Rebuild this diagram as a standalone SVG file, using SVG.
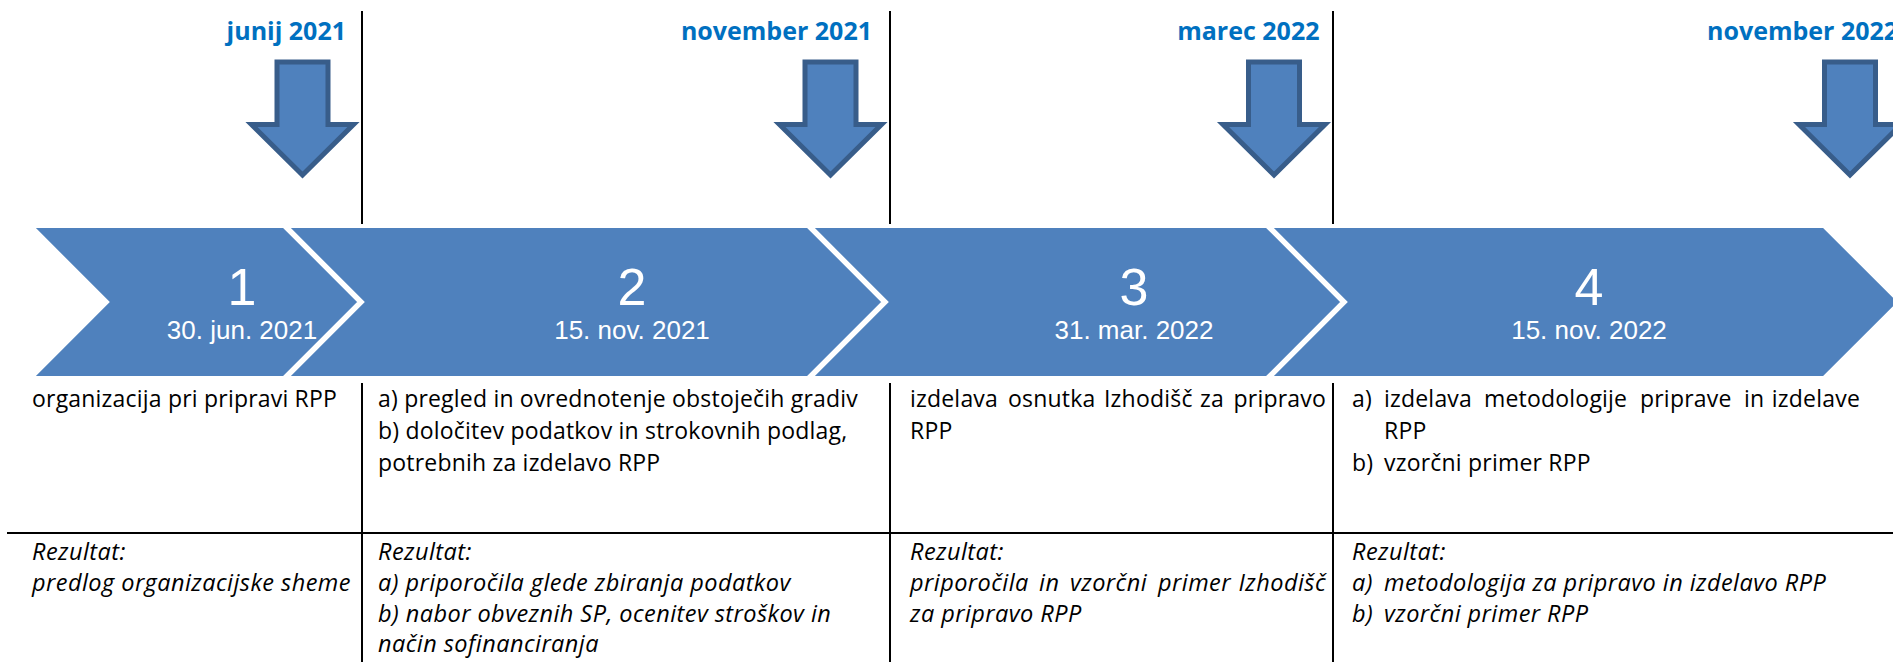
<svg xmlns="http://www.w3.org/2000/svg" width="1893" height="662" viewBox="0 0 1893 662">
<defs>
<style>
.lbl{font-family:"Open Sans","Noto Sans",sans-serif;font-weight:700;font-size:25px;fill:#0070C0}
.num{font-family:"Liberation Sans",Arial,sans-serif;font-size:52px;fill:#fff;text-anchor:middle}
.date{font-family:"Liberation Sans",Arial,sans-serif;font-size:26px;fill:#fff;text-anchor:middle}
.txt{font-family:"Open Sans","Noto Sans",sans-serif;font-size:23px;letter-spacing:0.2px;fill:#000}
.it{font-style:italic;font-size:23.5px;letter-spacing:0.45px}
.end{text-anchor:end}
.chev{fill:#4F81BD;stroke:#fff;stroke-width:4;stroke-linejoin:miter}
.arr{fill:#4F81BD;stroke:#385D8A;stroke-width:5;stroke-linejoin:miter}
.ln{stroke:#000;stroke-width:2;fill:none}
</style>
<path id="barrow" class="arr" d="M-25.5,62 H25.5 V124.5 H51 L0,175 L-51,124.5 H-25.5 Z"/>
</defs>
<rect width="1893" height="662" fill="#fff"/>

<g id="grid">
<line class="ln" x1="362" y1="11" x2="362" y2="225"/>
<line class="ln" x1="890" y1="11" x2="890" y2="225"/>
<line class="ln" x1="1333" y1="11" x2="1333" y2="225"/>
<line class="ln" x1="362" y1="383" x2="362" y2="662"/>
<line class="ln" x1="890" y1="383" x2="890" y2="662"/>
<line class="ln" x1="1333" y1="383" x2="1333" y2="662"/>
<line class="ln" x1="7" y1="533" x2="1893" y2="533"/>
</g>

<g id="milestone1"><text class="lbl" x="346" y="39.5" text-anchor="end">junij 2021</text><use href="#barrow" transform="translate(302.5,0)"/></g>
<g id="milestone2"><text class="lbl" x="872" y="39.5" text-anchor="end">november 2021</text><use href="#barrow" transform="translate(830.5,0)"/></g>
<g id="milestone3"><text class="lbl" x="1319.5" y="39.5" text-anchor="end">marec 2022</text><use href="#barrow" transform="translate(1274,0)"/></g>
<g id="milestone4"><text class="lbl" x="1707" y="39.5">november 2022</text><use href="#barrow" transform="translate(1850,0)"/></g>

<g id="step1"><path class="chev" d="M31,226 H284 L360,302 L284,378 H31 L107,302 Z"/><text class="num" x="242" y="305">1</text><text class="date" x="242" y="339">30. jun. 2021</text></g>
<g id="step2"><path class="chev" d="M286,226 H808 L884,302 L808,378 H286 L362,302 Z"/><text class="num" x="632" y="305">2</text><text class="date" x="632" y="339">15. nov. 2021</text></g>
<g id="step3"><path class="chev" d="M810,226 H1267 L1343,302 L1267,378 H810 L886,302 Z"/><text class="num" x="1134" y="305">3</text><text class="date" x="1134" y="339">31. mar. 2022</text></g>
<g id="step4"><path class="chev" d="M1269,226 H1824 L1900,302 L1824,378 H1269 L1345,302 Z"/><text class="num" x="1589" y="305">4</text><text class="date" x="1589" y="339">15. nov. 2022</text></g>

<g id="task1"><text class="txt" x="32" y="407">organizacija pri pripravi RPP</text></g>
<g id="result1"><text class="txt it" x="32" y="560">Rezultat:</text><text class="txt it" x="32" y="591">predlog organizacijske sheme</text></g>

<g id="task2">
<text class="txt" x="378" y="407">a) pregled in ovrednotenje obstoječih gradiv</text>
<text class="txt" x="378" y="439">b) določitev podatkov in strokovnih podlag,</text>
<text class="txt" x="378" y="471">potrebnih za izdelavo RPP</text>
</g>
<g id="result2">
<text class="txt it" x="378" y="560">Rezultat:</text>
<text class="txt it" x="378" y="591">a) priporočila glede zbiranja podatkov</text>
<text class="txt it" x="378" y="622">b) nabor obveznih SP, ocenitev stroškov in</text>
<text class="txt it" x="378" y="652">način sofinanciranja</text>
</g>

<g id="task3">
<text class="txt" x="910" y="407">izdelava</text>
<text class="txt" x="1008" y="407">osnutka</text>
<text class="txt" x="1104" y="407">Izhodišč</text>
<text class="txt" x="1200" y="407">za</text>
<text class="txt end" x="1326" y="407">pripravo</text>
<text class="txt" x="910" y="439">RPP</text>
</g>
<g id="result3">
<text class="txt it" x="910" y="560">Rezultat:</text>
<text class="txt it" x="910" y="591">priporočila</text>
<text class="txt it" x="1039" y="591">in</text>
<text class="txt it" x="1070" y="591">vzorčni</text>
<text class="txt it" x="1158" y="591">primer</text>
<text class="txt it end" x="1326" y="591">Izhodišč</text>
<text class="txt it" x="910" y="622">za pripravo RPP</text>
</g>

<g id="task4">
<text class="txt" x="1352" y="407">a)</text>
<text class="txt" x="1384" y="407">izdelava</text>
<text class="txt" x="1484" y="407">metodologije</text>
<text class="txt" x="1640" y="407">priprave</text>
<text class="txt" x="1744" y="407">in</text>
<text class="txt end" x="1860" y="407">izdelave</text>
<text class="txt" x="1384" y="439">RPP</text>
<text class="txt" x="1352" y="471">b)</text>
<text class="txt" x="1384" y="471">vzorčni primer RPP</text>
</g>
<g id="result4">
<text class="txt it" x="1352" y="560">Rezultat:</text>
<text class="txt it" x="1352" y="591">a)</text>
<text class="txt it" x="1384" y="591">metodologija za pripravo in izdelavo RPP</text>
<text class="txt it" x="1352" y="622">b)</text>
<text class="txt it" x="1384" y="622">vzorčni primer RPP</text>
</g>
</svg>
